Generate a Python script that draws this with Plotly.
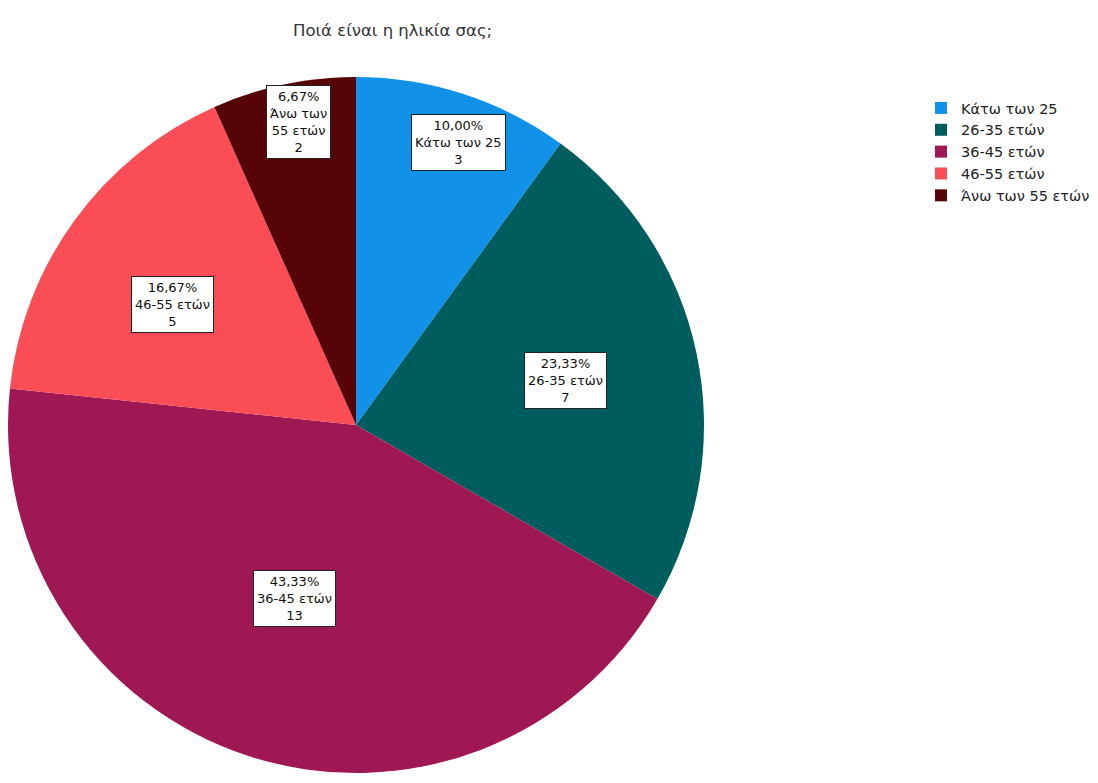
import math
import plotly.graph_objects as go

# ---- data ----
categories = ["Κάτω των 25", "26-35 ετών", "36-45 ετών", "46-55 ετών", "Άνω των 55 ετών"]
box_labels = ["Κάτω των 25", "26-35 ετών", "36-45 ετών", "46-55 ετών", "Άνω των<br>55 ετών"]
counts = [3, 7, 13, 5, 2]
colors = ["#1192e8", "#005d5d", "#9f1853", "#fa4d56", "#570408"]
title_text = "Ποιά είναι η ηλικία σας;"

# ---- layout geometry (figure pixels; page has an 8px body margin) ----
W, H = 1098, 783
CX, CY, R = 348, 417, 348
label_radius_frac = [0.865, 0.614, 0.53, 0.632, 0.885]
label_angle_shift = [2.0, 0.0, 1.5, -2.7, 1.3]   # degrees, label placement only

fig = go.Figure()
fig.add_trace(go.Pie(
    labels=categories,
    values=counts,
    sort=False,
    direction="clockwise",
    rotation=0,
    marker=dict(colors=colors, line=dict(width=0)),
    textinfo="none",
    hoverinfo="label+value+percent",
    domain=dict(x=[max(0, (CX - R) / W), (CX + R) / W],
                y=[(H - CY - R - 4) / H, (H - CY + R + 4) / H]),
    showlegend=True,
))

total = sum(counts)
cum = 0
for i, (c, lab) in enumerate(zip(counts, box_labels)):
    mid = (cum + c / 2) / total * 2 * math.pi + math.radians(label_angle_shift[i])
    cum += c
    pct = f"{c / total * 100:.2f}".replace(".", ",") + "%"
    px = CX + label_radius_frac[i] * R * math.sin(mid)
    py = CY - label_radius_frac[i] * R * math.cos(mid)
    fig.add_annotation(
        x=px / W, y=1 - py / H, xref="paper", yref="paper",
        xanchor="center", yanchor="middle",
        text=f"{pct}<br>{lab}<br>{c}",
        showarrow=False,
        font=dict(family="DejaVu Sans", size=13, color="#111"),
        bgcolor="white", bordercolor="#222", borderwidth=1, borderpad=3,
        align="center",
    )

fig.add_annotation(
    x=384 / W, y=1 - 22 / H, xref="paper", yref="paper",
    xanchor="center", yanchor="middle",
    text=title_text, showarrow=False,
    font=dict(family="DejaVu Sans", size=16.5, color="#333"),
)

fig.update_layout(
    width=W, height=H,
    margin=dict(l=0, r=0, t=0, b=0),
    paper_bgcolor="white",
    plot_bgcolor="white",
    legend=dict(
        x=913 / W, y=1 - 84 / H, xanchor="left", yanchor="top",
        font=dict(family="DejaVu Sans", size=14.5, color="#222"),
        itemwidth=30, tracegroupgap=0,
    ),
)

fig.write_html("out.html")
